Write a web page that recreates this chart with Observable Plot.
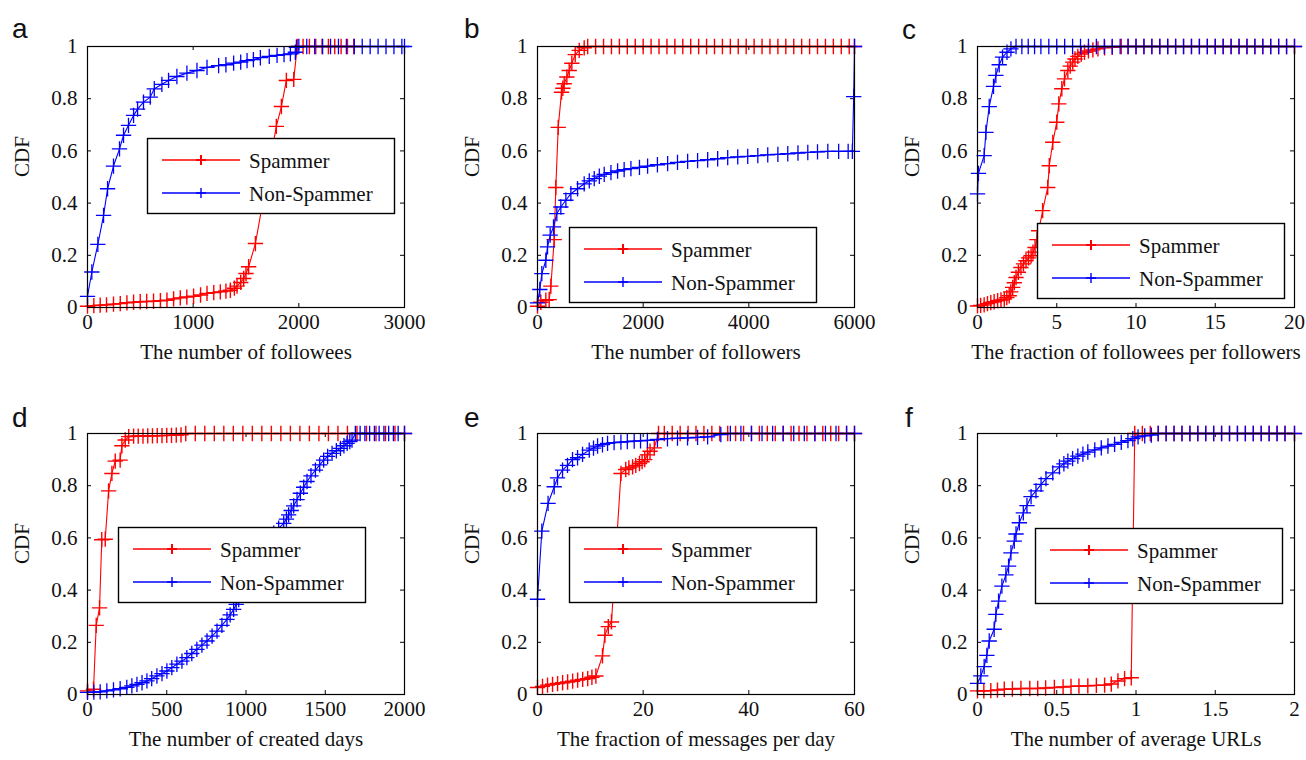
<!DOCTYPE html>
<html><head><meta charset="utf-8">
<script src="https://cdn.jsdelivr.net/npm/d3@7"></script>
<script src="https://cdn.jsdelivr.net/npm/@observablehq/plot@0.6"></script>
<style>
body{margin:0;background:#fff;}
#root{position:relative;width:1306px;height:760px;overflow:hidden;background:#fff;}
.panel{position:absolute;}
.panel svg{overflow:visible;max-width:none;}
#overlay{position:absolute;left:0;top:0;pointer-events:none;}
</style></head><body><div id="root"></div><script>
// ---------- data ----------
const seriesNames = ["Spammer", "Non-Spammer"];
const seriesColors = ["#ff0000", "#0000ff"];
const panelLetters = ["a", "b", "c", "d", "e", "f"];
const yTicks = [0, 0.2, 0.4, 0.6, 0.8, 1];
const yLabel = "CDF";
const xLabels = [
  "The number of followees",
  "The number of followers",
  "The fraction of followees per followers",
  "The number of created days",
  "The fraction of messages per day",
  "The number of average URLs"
];
const ticksA = [0, 1000, 2000, 3000];
const ticksB = [0, 2000, 4000, 6000];
const ticksC = [0, 5, 10, 15, 20];
const ticksD = [0, 500, 1000, 1500, 2000];
const ticksE = [0, 20, 40, 60];
const ticksF = [0, 0.5, 1, 1.5, 2];

// (a) followees
const aSpam = [[0,0.005],[60,0.007],[120,0.009],[180,0.01],[246,0.013],[310,0.015],[373,0.018],[436,0.02],[499,0.022],[560,0.023],[625,0.024],[690,0.026],[752,0.028],[815,0.033],[878,0.037],[940,0.04],[1004,0.043],[1070,0.048],[1131,0.054],[1195,0.057],[1257,0.06],[1310,0.063],[1352,0.066],[1390,0.074],[1415,0.082],[1450,0.096],[1478,0.111],[1500,0.13],[1525,0.156],[1589,0.245],[1787,0.694],[1835,0.77],[1882,0.87],[1952,0.874],[1985,1],[2040,1],[2100,1],[2160,1],[2220,1],[2280,1],[2340,1],[2400,1],[2460,1],[2520,1]];
const aNon = [[0,0.043],[41,0.136],[98,0.242],[152,0.353],[190,0.455],[246,0.542],[303,0.608],[341,0.66],[388,0.698],[436,0.736],[474,0.76],[530,0.787],[594,0.806],[632,0.838],[704,0.855],[767,0.87],[846,0.885],[941,0.898],[1036,0.908],[1131,0.92],[1241,0.927],[1310,0.93],[1383,0.936],[1450,0.94],[1510,0.946],[1570,0.95],[1636,0.957],[1720,0.962],[1794,0.966],[1860,0.969],[1920,0.972],[1967,0.978],[1977,0.997],[2000,1],[2075,1],[2150,1],[2225,1],[2300,1],[2375,1],[2450,1],[2525,1],[2600,1],[2675,1],[2750,1],[2825,1],[2900,1],[2975,1],[3000,1]];

// (b) followers
const bSpam = [[0,0.005],[63,0.02],[158,0.028],[221,0.03],[253,0.082],[316,0.26],[347,0.46],[392,0.69],[455,0.825],[480,0.84],[505,0.857],[556,0.883],[600,0.908],[650,0.936],[714,0.969],[790,0.985],[884,0.995],[950,1],[1100,1],[1250,1],[1400,1],[1550,1],[1700,1],[1850,1],[2000,1],[2150,1],[2300,1],[2450,1],[2600,1],[2750,1],[2900,1],[3050,1],[3200,1],[3350,1],[3500,1],[3650,1],[3800,1],[3950,1],[4100,1],[4250,1],[4400,1],[4550,1],[4700,1],[4850,1],[5000,1],[5150,1],[5300,1],[5450,1],[5600,1],[5750,1],[5900,1],[6000,1]];
const bNon = [[0,0.018],[44,0.069],[82,0.13],[158,0.181],[190,0.232],[240,0.277],[303,0.309],[366,0.36],[442,0.385],[537,0.411],[632,0.436],[758,0.455],[884,0.474],[980,0.485],[1074,0.494],[1170,0.503],[1263,0.51],[1390,0.517],[1516,0.523],[1640,0.528],[1768,0.532],[1930,0.537],[2084,0.542],[2270,0.547],[2463,0.551],[2650,0.556],[2842,0.56],[3030,0.563],[3221,0.566],[3410,0.57],[3600,0.574],[3790,0.577],[3979,0.579],[4170,0.582],[4358,0.585],[4550,0.587],[4737,0.589],[4930,0.592],[5116,0.594],[5300,0.596],[5495,0.598],[5700,0.598],[5880,0.598],[5960,0.598],[5985,0.808],[6000,1]];

// (c) followees per followers
const cSpam = [[0,0.006],[0.2,0.008],[0.42,0.01],[0.63,0.015],[0.84,0.019],[1.05,0.022],[1.27,0.026],[1.48,0.029],[1.69,0.032],[1.85,0.038],[2.0,0.045],[2.1,0.06],[2.22,0.077],[2.32,0.095],[2.43,0.115],[2.58,0.135],[2.74,0.153],[2.9,0.167],[3.06,0.179],[3.22,0.19],[3.38,0.198],[3.5,0.212],[3.63,0.23],[3.75,0.26],[3.86,0.294],[4.11,0.371],[4.43,0.46],[4.53,0.543],[4.75,0.633],[5.0,0.71],[5.13,0.78],[5.32,0.838],[5.49,0.876],[5.7,0.908],[5.85,0.925],[6.01,0.94],[6.15,0.952],[6.33,0.962],[6.55,0.971],[6.75,0.978],[7.0,0.983],[7.28,0.987],[7.6,0.991],[8.02,0.995],[8.5,0.997],[9.07,1],[9.5,1],[10,1],[10.5,1],[11,1],[11.5,1],[12,1],[12.5,1],[13,1],[13.5,1],[14,1],[14.5,1],[15,1],[15.5,1],[16,1],[16.5,1],[17,1],[17.5,1],[18,1],[18.5,1],[19,1],[19.5,1],[20,1]];
const cNon = [[0,0.435],[0.06,0.514],[0.42,0.582],[0.53,0.671],[0.74,0.77],[1.01,0.847],[1.16,0.889],[1.37,0.93],[1.58,0.959],[1.86,0.978],[2.11,0.991],[2.43,1],[2.8,1],[3.2,1],[3.6,1],[4,1],[4.5,1],[5,1],[5.5,1],[6,1],[6.5,1],[7,1],[7.5,1],[8,1],[8.5,1],[9,1],[9.5,1],[10,1],[10.5,1],[11,1],[11.5,1],[12,1],[12.5,1],[13,1],[13.5,1],[14,1],[14.5,1],[15,1],[15.5,1],[16,1],[16.5,1],[17,1],[17.5,1],[18,1],[18.5,1],[19,1],[19.5,1],[20,1]];

// (d) created days
const dSpam = [[0,0.014],[38,0.02],[55,0.265],[76,0.332],[90,0.593],[112,0.595],[133,0.78],[154,0.847],[175,0.894],[206,0.898],[217,0.953],[238,0.975],[260,0.988],[291,0.99],[320,0.99],[350,0.99],[380,0.991],[410,0.991],[440,0.992],[470,0.992],[500,0.993],[530,0.993],[560,0.994],[590,0.995],[620,1],[680,1],[740,1],[800,1],[860,1],[920,1],[980,1],[1040,1],[1100,1],[1160,1],[1220,1],[1280,1],[1340,1],[1400,1],[1460,1],[1520,1],[1580,1],[1640,1],[1700,1],[1760,1],[1820,1],[1880,1],[1940,1],[2000,1]];
const dNon = [[0,0.008],[40,0.009],[80,0.01],[122,0.014],[164,0.018],[206,0.022],[248,0.027],[280,0.033],[312,0.039],[344,0.045],[375,0.052],[405,0.061],[438,0.071],[470,0.08],[501,0.09],[532,0.103],[564,0.116],[596,0.128],[627,0.141],[658,0.157],[690,0.173],[722,0.189],[754,0.205],[786,0.224],[817,0.243],[848,0.265],[880,0.288],[900,0.305],[922,0.326],[938,0.345],[954,0.364],[975,0.392],[996,0.421],[1022,0.46],[1048,0.497],[1080,0.536],[1111,0.574],[1143,0.598],[1175,0.618],[1206,0.637],[1238,0.656],[1255,0.672],[1269,0.688],[1285,0.705],[1301,0.723],[1322,0.747],[1343,0.771],[1364,0.794],[1385,0.816],[1410,0.838],[1438,0.86],[1465,0.88],[1490,0.898],[1515,0.912],[1543,0.924],[1570,0.934],[1596,0.943],[1618,0.953],[1638,0.962],[1655,0.969],[1669,0.975],[1690,1],[1720,1],[1750,1],[1780,1],[1810,1],[1840,1],[1870,1],[1900,1],[1930,1],[1960,1],[2000,1]];

// (e) messages per day
const eSpam = [[0,0.027],[0.95,0.031],[1.9,0.036],[2.85,0.039],[3.8,0.042],[4.75,0.045],[5.7,0.048],[6.65,0.051],[7.6,0.055],[8.55,0.058],[9.5,0.061],[10.3,0.066],[11.05,0.071],[12.3,0.148],[12.76,0.227],[13.4,0.26],[14.0,0.278],[15.8,0.847],[16.7,0.862],[17.3,0.868],[18.0,0.872],[18.6,0.878],[19.3,0.885],[19.8,0.892],[20.3,0.9],[20.8,0.918],[21.3,0.932],[22.1,0.945],[22.9,1],[24,1],[25.5,1],[27,1],[28.5,1],[30,1],[31.5,1],[33,1],[34.5,1],[36,1],[37.5,1],[39,1],[40.5,1],[42,1],[43.5,1],[45,1],[46.5,1],[48,1],[49.5,1],[51,1],[52.5,1],[54,1],[55.5,1],[57,1],[58.5,1],[60,1]];
const eNon = [[0,0.365],[0.82,0.626],[2.0,0.732],[3.16,0.796],[3.79,0.83],[4.74,0.86],[5.68,0.878],[6.63,0.9],[7.58,0.907],[8.53,0.92],[9.79,0.936],[10.6,0.944],[11.37,0.952],[12.3,0.957],[13.26,0.962],[14.5,0.965],[15.79,0.967],[17,0.969],[18.3,0.971],[19.5,0.972],[20.8,0.974],[22.7,0.977],[24.6,0.98],[26.5,0.982],[28.4,0.983],[30.3,0.985],[32.2,0.987],[34.7,0.996],[36.5,1],[38.5,1],[40.5,1],[42.5,1],[44.5,1],[46.5,1],[48.5,1],[50.5,1],[52.5,1],[54.5,1],[56.5,1],[58.5,1],[60,1]];

// (f) average URLs
const fSpam = [[0,0.014],[0.04,0.014],[0.084,0.015],[0.126,0.017],[0.169,0.02],[0.22,0.021],[0.274,0.023],[0.33,0.023],[0.38,0.023],[0.43,0.025],[0.485,0.027],[0.54,0.029],[0.59,0.031],[0.64,0.032],[0.696,0.033],[0.75,0.035],[0.802,0.036],[0.844,0.04],[0.886,0.052],[0.928,0.061],[0.97,0.064],[0.992,1],[1.04,1],[1.09,1],[1.14,1],[1.19,1],[1.24,1],[1.29,1],[1.34,1],[1.39,1],[1.44,1],[1.49,1],[1.54,1],[1.59,1],[1.64,1],[1.69,1],[1.74,1],[1.79,1],[1.84,1],[1.89,1],[1.94,1],[2,1]];
const fNon = [[0,0.043],[0.021,0.071],[0.042,0.107],[0.059,0.15],[0.074,0.205],[0.105,0.25],[0.116,0.307],[0.133,0.358],[0.154,0.415],[0.179,0.458],[0.196,0.492],[0.211,0.543],[0.232,0.588],[0.243,0.615],[0.264,0.658],[0.289,0.696],[0.312,0.724],[0.338,0.758],[0.369,0.78],[0.401,0.805],[0.432,0.827],[0.475,0.849],[0.517,0.872],[0.545,0.884],[0.57,0.894],[0.6,0.904],[0.633,0.913],[0.665,0.921],[0.696,0.929],[0.74,0.937],[0.781,0.945],[0.823,0.952],[0.865,0.958],[0.907,0.966],[0.949,0.973],[0.98,0.98],[1.013,0.987],[1.055,0.991],[1.097,0.994],[1.14,1],[1.19,1],[1.24,1],[1.29,1],[1.34,1],[1.39,1],[1.44,1],[1.49,1],[1.54,1],[1.59,1],[1.64,1],[1.69,1],[1.74,1],[1.79,1],[1.84,1],[1.89,1],[1.94,1],[2,1]];

const panelTicks = [ticksA, ticksB, ticksC, ticksD, ticksE, ticksF];
const panelSpam = [aSpam, bSpam, cSpam, dSpam, eSpam, fSpam];
const panelNon = [aNon, bNon, cNon, dNon, eNon, fNon];

// ---------- layout ----------
const FW = 317, FH = 261, TL = 4;
const SVG_W = 420, SVG_H = 380, ML = 87, MT = 46;
const panelPos = [[0,0],[450,0],[890,0],[0,387],[450,387],[890,387]];
const letterPos = [[12,38],[464,38],[902,39],[12,427],[464,427],[905,427]];
const legendPos = [[147,138],[569,227],[1037,223],[118,527],[569,527],[1035,528]];
const serif = "'Liberation Serif', 'Times New Roman', serif";

const root = document.getElementById("root");

function makePlot(i) {
  const ticks = panelTicks[i];
  const toRows = (arr) => arr.map(([x, y]) => ({x, y}));
  const spam = toRows(panelSpam[i]);
  const non = toRows(panelNon[i]);
  return Plot.plot({
    width: SVG_W, height: SVG_H,
    marginLeft: ML, marginTop: MT, marginRight: SVG_W - ML - FW, marginBottom: SVG_H - MT - FH,
    style: {fontFamily: serif, fontSize: "21px", background: "transparent", overflow: "visible", maxWidth: "none", color: "#111"},
    x: {domain: d3.extent(ticks)},
    y: {domain: [0, 1]},
    marks: [
      Plot.axisX(ticks, {tickSize: 0, tickPadding: 7, tickFormat: d => String(d), label: null, fontSize: 21}),
      Plot.axisY(yTicks, {tickSize: 0, tickPadding: 10, tickFormat: d => String(d), label: null, fontSize: 21}),
      Plot.tickX(ticks, {x: d => d, insetTop: FH - TL, stroke: "#000"}),
      Plot.tickX(ticks, {x: d => d, insetBottom: FH - TL, stroke: "#000"}),
      Plot.tickY(yTicks, {y: d => d, insetRight: FW - TL, stroke: "#000"}),
      Plot.tickY(yTicks, {y: d => d, insetLeft: FW - TL, stroke: "#000"}),
      Plot.line(spam, {x: "x", y: "y", stroke: seriesColors[0], strokeWidth: 1.1}),
      Plot.dot(spam, {x: "x", y: "y", symbol: "plus", r: 5, stroke: seriesColors[0], fill: "none", strokeWidth: 1.4}),
      Plot.line(non, {x: "x", y: "y", stroke: seriesColors[1], strokeWidth: 1.1}),
      Plot.dot(non, {x: "x", y: "y", symbol: "plus", r: 5, stroke: seriesColors[1], fill: "none", strokeWidth: 1.3}),
      Plot.frame({stroke: "#000", strokeWidth: 1.2}),
      Plot.text([xLabels[i]], {text: d => d, frameAnchor: "bottom", dy: 51, fontSize: 21, fill: "#111"}),
      Plot.text([yLabel], {text: d => d, frameAnchor: "left", dx: -65, rotate: -90, fontSize: 21, fill: "#111"})
    ]
  });
}

for (let i = 0; i < 6; i++) {
  const div = document.createElement("div");
  div.className = "panel";
  div.style.left = panelPos[i][0] + "px";
  div.style.top = panelPos[i][1] + "px";
  div.appendChild(makePlot(i));
  root.appendChild(div);
}

// overlay: panel letters and legends
const overlay = d3.create("svg").attr("id", "overlay").attr("width", 1306).attr("height", 760);
panelLetters.forEach((t, i) => {
  overlay.append("text")
    .attr("x", letterPos[i][0]).attr("y", letterPos[i][1])
    .attr("font-family", "'Liberation Sans', Arial, sans-serif")
    .attr("font-size", 28).attr("fill", "#111").text(t);
});
legendPos.forEach(([lx, ly]) => {
  const g = overlay.append("g").attr("transform", `translate(${lx},${ly})`);
  g.append("rect").attr("x", 0.5).attr("y", 0.5).attr("width", 247).attr("height", 75)
    .attr("fill", "#fff").attr("stroke", "#000").attr("stroke-width", 1.4);
  seriesNames.forEach((name, k) => {
    const cy = 22 + k * 33;
    g.append("line").attr("x1", 15).attr("x2", 93).attr("y1", cy).attr("y2", cy)
      .attr("stroke", seriesColors[k]).attr("stroke-width", 1.3);
    g.append("path").attr("d", `M54,${cy - 5}V${cy + 5}M49,${cy}H59`)
      .attr("stroke", seriesColors[k]).attr("stroke-width", k === 0 ? 2 : 1.4).attr("fill", "none");
    g.append("text").attr("x", 102).attr("y", cy + 8)
      .attr("font-family", serif).attr("font-size", 21).attr("fill", "#111").text(name);
  });
});
root.appendChild(overlay.node());
</script></body></html>
